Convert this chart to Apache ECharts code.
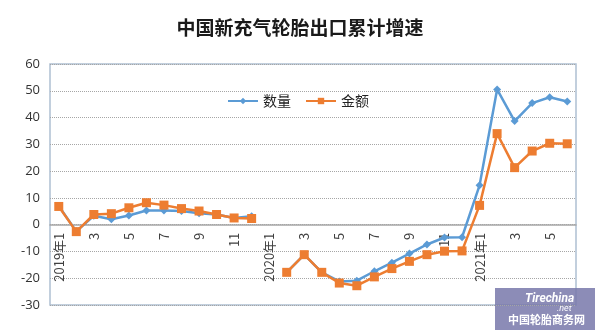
<!DOCTYPE html>
<html>
<head>
<meta charset="utf-8">
<script src="https://cdn.jsdelivr.net/npm/echarts@6/dist/echarts.min.js"></script>
<style>html,body{margin:0;padding:0;background:#fff;}#c{width:600px;height:335px;}</style>
</head>
<body>
<div id="c"></div>
<script>
var categories = [
  '2019年1','2','3','4','5','6','7','8','9','10','11','12',
  '2020年1','2','3','4','5','6','7','8','9','10','11','12',
  '2021年1','2','3','4','5','6'
];
var quantity = [
  7.0, -2.5, 3.3, 2.0, 3.4, 5.3, 5.3, 5.1, 4.3, 3.8, 2.5, 3.1,
  null, -17.8, -11.2, -17.8, -21.2, -20.9, -17.4, -14.2, -10.8, -7.4, -4.8, -4.7,
  14.7, 50.5, 38.7, 45.4, 47.6, 46.0
];
var amount = [
  6.8, -2.6, 3.8, 4.1, 6.3, 8.2, 7.3, 6.0, 5.1, 3.8, 2.5, 2.3,
  null, -17.8, -11.2, -17.8, -21.8, -22.8, -19.5, -16.4, -13.7, -11.2, -9.9, -9.8,
  7.2, 34.0, 21.3, 27.5, 30.4, 30.2
];
var yTicks = { min: -30, max: 60, interval: 10 };

var gridTop = 64, gridBottom = 30, H = 335;
var plotH = H - gridTop - gridBottom;
var zeroOffset = -plotH * (0 - yTicks.min) / (yTicks.max - yTicks.min);

var chart = echarts.init(document.getElementById('c'), null, { renderer: 'canvas' });
chart.setOption({
  animation: false,
  backgroundColor: '#fff',
  title: {
    text: '中国新充气轮胎出口累计增速',
    left: 'center',
    top: 13,
    textStyle: { fontFamily: 'Noto Sans CJK SC', fontSize: 19, fontWeight: 'bold', color: '#1a1a1a' }
  },
  legend: {
    left: 222,
    top: 89,
    itemWidth: 30,
    itemHeight: 8,
    itemGap: 14,
    textStyle: { fontFamily: 'Noto Sans CJK SC', fontSize: 14, color: '#222' },
    data: ['数量', '金额']
  },
  grid: {
    left: 50, right: 24, top: gridTop, bottom: gridBottom,
    containLabel: false,
    outerBoundsMode: 'none',
    show: true, borderColor: '#AFC0D2', borderWidth: 1.5
  },
  xAxis: {
    type: 'category',
    data: categories,
    boundaryGap: true,
    position: 'bottom',
    offset: zeroOffset,
    axisLine: { onZero: false, lineStyle: { color: '#A6A6A6', width: 1.5 } },
    axisTick: { show: false },
    axisLabel: {
      interval: 1, rotate: 90, margin: 8,
      fontFamily: 'Noto Sans CJK SC', fontSize: 13, color: '#404040'
    },
    splitLine: { show: false }
  },
  yAxis: {
    type: 'value',
    min: yTicks.min, max: yTicks.max, interval: yTicks.interval,
    axisLine: { show: false },
    axisTick: { show: false },
    axisLabel: { fontFamily: 'Open Sans', fontSize: 13, color: '#333', margin: 10 },
    splitLine: { lineStyle: { color: '#A6A6A6', type: 'dotted', width: 1 } }
  },
  series: [
    {
      name: '数量', type: 'line', data: quantity,
      symbol: 'diamond', symbolSize: 8, connectNulls: false,
      lineStyle: { color: '#5B9BD5', width: 2.5 },
      itemStyle: { color: '#5B9BD5' },
      z: 2
    },
    {
      name: '金额', type: 'line', data: amount,
      symbol: 'rect', symbolSize: 9, connectNulls: false,
      lineStyle: { color: '#ED7D31', width: 2.5 },
      itemStyle: { color: '#ED7D31' },
      z: 3
    }
  ],
  graphic: [
    {
      type: 'group', left: 495, top: 288,
      children: [
        { type: 'rect', shape: { x: 0, y: 0, width: 100, height: 42 }, style: { fill: 'rgba(120,120,170,0.85)' } },
        { type: 'text', style: { x: 30, y: 5, text: 'Tirechina', fill: '#fff', font: 'italic bold 12px Roboto' } },
        { type: 'text', style: { x: 62, y: 16, text: '.net', fill: '#fff', font: 'italic 9px Roboto' } },
        { type: 'text', style: { x: 13, y: 26, text: '中国轮胎商务网', fill: '#fff', font: 'bold 11px "Noto Sans CJK SC"' } }
      ]
    }
  ]
});
</script>
</body>
</html>
